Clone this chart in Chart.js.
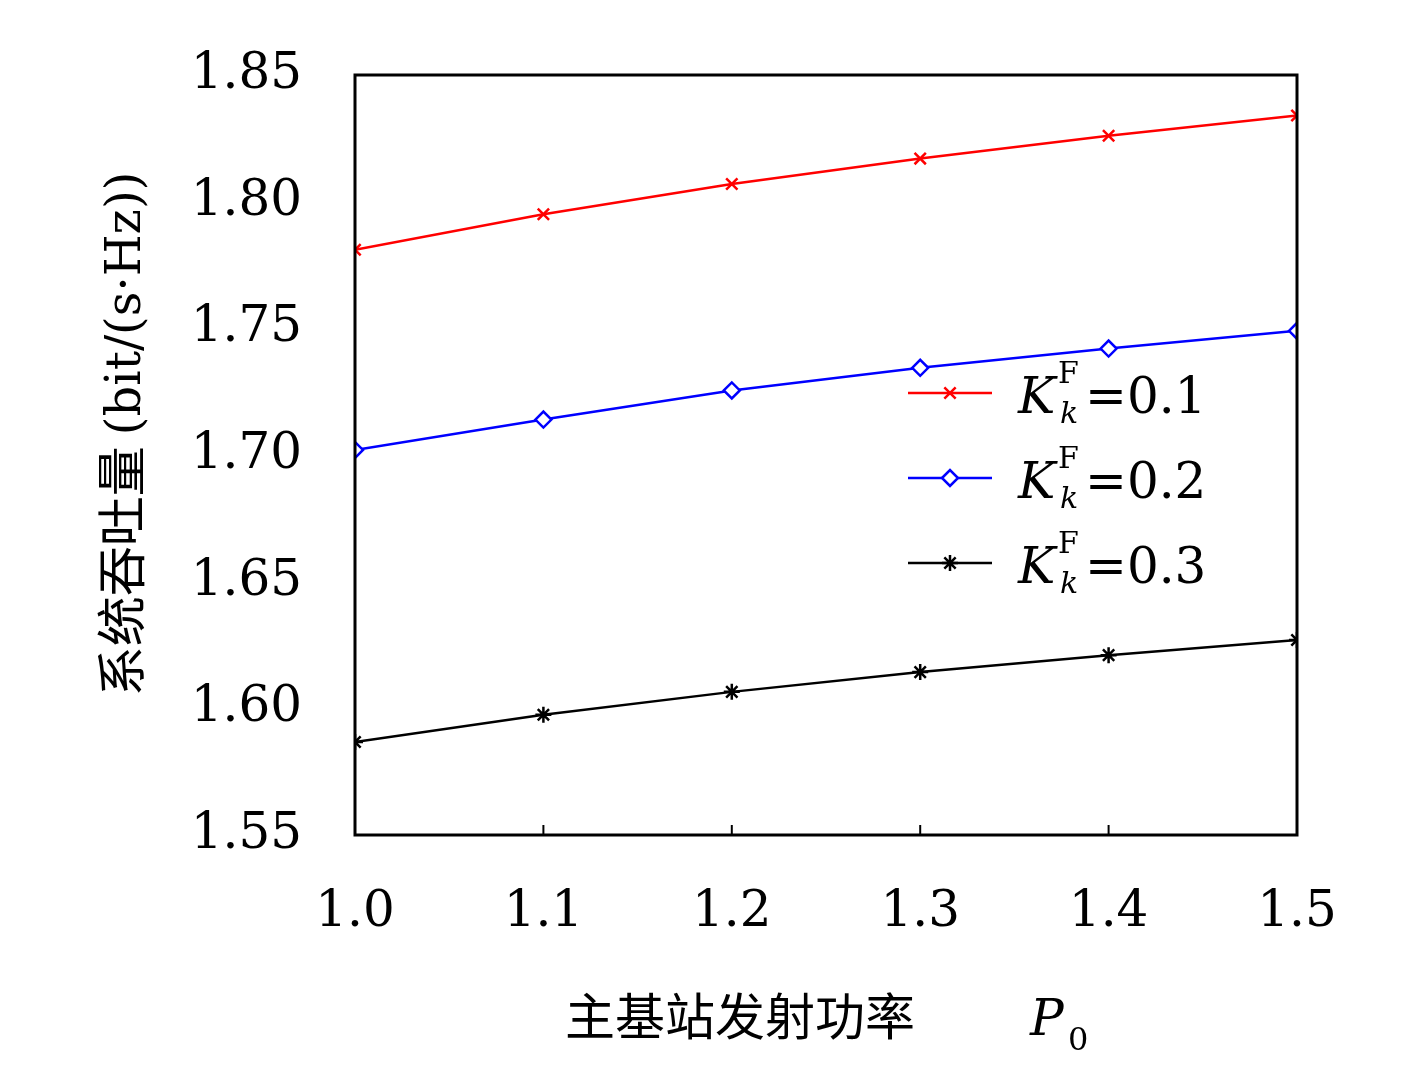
<!DOCTYPE html>
<html><head><meta charset="utf-8">
<script src="https://cdn.jsdelivr.net/npm/chart.js@4/dist/chart.umd.min.js"></script>
<style>html,body{margin:0;background:#fff}</style>
</head><body><canvas id="c" width="1417" height="1068"></canvas>
<script>
const xValues = [1.0, 1.1, 1.2, 1.3, 1.4, 1.5];
const seriesK01 = [1.781, 1.795, 1.807, 1.817, 1.826, 1.834];
const seriesK02 = [1.702, 1.714, 1.7255, 1.7344, 1.742, 1.749];
const seriesK03 = [1.5867, 1.5975, 1.6065, 1.6143, 1.621, 1.627];
const legendValues = ['0.1', '0.2', '0.3'];
const serif = '"DejaVu Serif", "Liberation Serif", serif';
const cjk = '"Noto Sans CJK SC", sans-serif';

function ds(data, color, style, extra) {
  return Object.assign({
    data: xValues.map((x, i) => ({ x: x, y: data[i] })),
    borderColor: color, backgroundColor: color, borderWidth: 2.5,
    pointStyle: style, pointRadius: 8, pointBorderWidth: 2.5, tension: 0
  }, extra || {});
}

const decor = {
  id: 'decor',
  afterDraw(chart) {
    const ctx = chart.ctx, a = chart.chartArea;
    ctx.save();
    ctx.strokeStyle = '#000'; ctx.lineWidth = 3;
    ctx.strokeRect(a.left, a.top, a.right - a.left, a.bottom - a.top);
    const xs = chart.scales.x;
    ctx.lineWidth = 2;
    xValues.forEach(v => {
      const px = xs.getPixelForValue(v);
      ctx.beginPath(); ctx.moveTo(px, a.bottom); ctx.lineTo(px, a.bottom - 10); ctx.stroke();
    });
    // axis titles
    ctx.fillStyle = '#000';
    ctx.font = '50px ' + cjk; ctx.textBaseline = 'alphabetic';
    ctx.fillText('主基站发射功率', 565, 1035);
    ctx.font = 'italic 50px ' + serif; ctx.fillText('P', 1030, 1035);
    ctx.font = '32px ' + serif; ctx.fillText('0', 1068, 1050);
    ctx.translate(140, 434); ctx.rotate(-Math.PI / 2);
    const t1 = '系统吞吐量 ';
    ctx.font = '50px ' + cjk; const w1 = ctx.measureText(t1).width;
    ctx.font = '48px ' + serif; const t2 = '(bit/(s·Hz))'; const w2 = ctx.measureText(t2).width;
    ctx.textAlign = 'left';
    const x0 = -(w1 + w2) / 2;
    ctx.font = '50px ' + cjk; ctx.fillText(t1, x0, 0);
    ctx.font = '48px ' + serif; ctx.fillText(t2, x0 + w1, 0);
    ctx.restore();
    // legend
    const items = [['#f00', 'crossRot'], ['#00f', 'rectRot'], ['#000', 'star']];
    ctx.save();
    items.forEach((it, i) => {
      const y = 393 + i * 85;
      ctx.strokeStyle = it[0]; ctx.lineWidth = 2.5;
      ctx.beginPath(); ctx.moveTo(908, y); ctx.lineTo(992, y); ctx.stroke();
      ctx.fillStyle = it[1] === 'rectRot' ? '#fff' : it[0];
      Chart.helpers.drawPoint(ctx, { pointStyle: it[1], radius: 8, borderWidth: 2.5 }, 950, y);
      ctx.fillStyle = '#000';
      ctx.font = 'italic 50px ' + serif; ctx.fillText('K', 1018, y + 20);
      ctx.font = '30px ' + serif; ctx.fillText('F', 1058, y - 10);
      ctx.font = 'italic 30px ' + serif; ctx.fillText('k', 1060, y + 30);
      ctx.font = '50px ' + serif; ctx.fillText('=' + legendValues[i], 1085, y + 20);
    });
    ctx.restore();
  }
};

new Chart(document.getElementById('c'), {
  type: 'line',
  data: { datasets: [
    ds(seriesK01, '#f00', 'crossRot'),
    ds(seriesK02, '#00f', 'rectRot', { backgroundColor: '#fff' }),
    ds(seriesK03, '#000', 'star')
  ] },
  options: {
    responsive: false, animation: false,
    devicePixelRatio: 1,
    layout: { padding: { top: 33, right: 120, left: 0, bottom: 0 } },
    plugins: { legend: { display: false }, tooltip: { enabled: false } },
    scales: {
      x: {
        type: 'linear', min: 1.0, max: 1.5,
        afterFit: s => { s.height = 233; },
        afterBuildTicks: s => { s.ticks = xValues.map(v => ({ value: v })); },
        grid: { display: false }, border: { display: false },
        ticks: { color: '#000', font: { family: serif, size: 50 }, padding: 40, maxRotation: 0,
          callback: v => v.toFixed(1) }
      },
      y: {
        min: 1.55, max: 1.85,
        afterFit: s => { s.width = 355; },
        grid: { display: false }, border: { display: false },
        ticks: { stepSize: 0.05, color: '#000', font: { family: serif, size: 50 }, padding: 45,
          callback: v => v.toFixed(2) }
      }
    }
  },
  plugins: [decor]
});
</script>
</body></html>
